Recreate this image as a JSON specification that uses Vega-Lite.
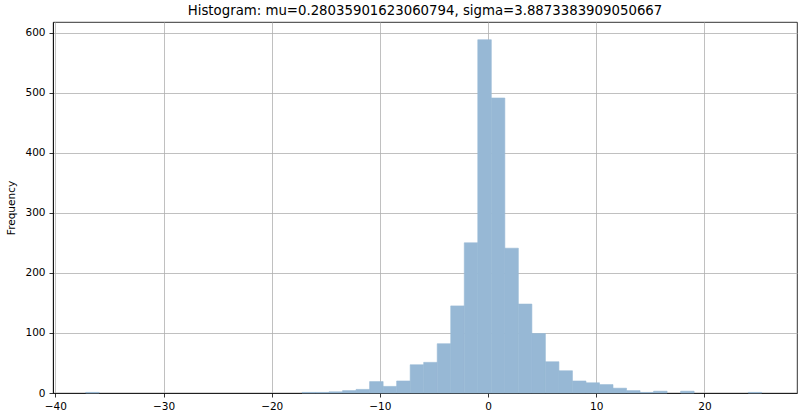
{
  "$schema": "https://vega.github.io/schema/vega-lite/v6.json",
  "width": 744,
  "height": 371,
  "autosize": "none",
  "padding": {"left": 53, "top": 22, "right": 3, "bottom": 25},
  "title": {
    "text": "Histogram: mu=0.28035901623060794, sigma=3.8873383909050667",
    "font": "DejaVu Sans",
    "fontSize": 13.3,
    "fontWeight": "normal",
    "color": "black",
    "offset": 5
  },
  "data": {
    "values": [
      {"bin_start": -37.2, "bin_end": -35.95, "count": 1},
      {"bin_start": -17.2, "bin_end": -15.95, "count": 1},
      {"bin_start": -15.95, "bin_end": -14.7, "count": 1},
      {"bin_start": -14.7, "bin_end": -13.45, "count": 2},
      {"bin_start": -13.45, "bin_end": -12.2, "count": 4},
      {"bin_start": -12.2, "bin_end": -10.95, "count": 6},
      {"bin_start": -10.95, "bin_end": -9.7, "count": 19},
      {"bin_start": -9.7, "bin_end": -8.45, "count": 11},
      {"bin_start": -8.45, "bin_end": -7.2, "count": 20},
      {"bin_start": -7.2, "bin_end": -5.95, "count": 47},
      {"bin_start": -5.95, "bin_end": -4.7, "count": 51},
      {"bin_start": -4.7, "bin_end": -3.45, "count": 82},
      {"bin_start": -3.45, "bin_end": -2.2, "count": 145},
      {"bin_start": -2.2, "bin_end": -0.95, "count": 250},
      {"bin_start": -0.95, "bin_end": 0.3, "count": 588},
      {"bin_start": 0.3, "bin_end": 1.55, "count": 491},
      {"bin_start": 1.55, "bin_end": 2.8, "count": 241},
      {"bin_start": 2.8, "bin_end": 4.05, "count": 148},
      {"bin_start": 4.05, "bin_end": 5.3, "count": 99},
      {"bin_start": 5.3, "bin_end": 6.55, "count": 52},
      {"bin_start": 6.55, "bin_end": 7.8, "count": 37},
      {"bin_start": 7.8, "bin_end": 9.05, "count": 20},
      {"bin_start": 9.05, "bin_end": 10.3, "count": 17},
      {"bin_start": 10.3, "bin_end": 11.55, "count": 14},
      {"bin_start": 11.55, "bin_end": 12.8, "count": 8},
      {"bin_start": 12.8, "bin_end": 14.05, "count": 4},
      {"bin_start": 14.05, "bin_end": 15.3, "count": 1},
      {"bin_start": 15.3, "bin_end": 16.55, "count": 3},
      {"bin_start": 17.8, "bin_end": 19.05, "count": 3},
      {"bin_start": 24.05, "bin_end": 25.3, "count": 1}
    ]
  },
  "mark": {"type": "bar", "color": "#97b8d5", "stroke": "#97b8d5", "strokeWidth": 0.6},
  "encoding": {
    "x": {
      "field": "bin_start",
      "type": "quantitative",
      "scale": {"domain": [-40.22, 28.56], "nice": false, "zero": false},
      "axis": {"values": [-40, -30, -20, -10, 0, 10, 20], "title": null}
    },
    "x2": {"field": "bin_end"},
    "y": {
      "field": "count",
      "type": "quantitative",
      "scale": {"domain": [0, 617.5], "nice": false},
      "axis": {"values": [0, 100, 200, 300, 400, 500, 600], "title": "Frequency", "titlePadding": 8}
    },
    "y2": {"datum": 0}
  },
  "config": {
    "view": {"stroke": "black", "strokeWidth": 0.8},
    "axis": {
      "zindex": 1,
      "grid": true,
      "gridColor": "#b0b0b0",
      "gridWidth": 0.8,
      "gridOpacity": 1,
      "domainColor": "black",
      "domainWidth": 0.8,
      "tickColor": "black",
      "tickWidth": 0.8,
      "tickSize": 4,
      "labelFont": "DejaVu Sans",
      "labelFontSize": 10.5,
      "labelColor": "black",
      "labelPadding": 4,
      "titleFont": "DejaVu Sans",
      "titleFontSize": 10.5,
      "titleFontWeight": "normal",
      "titleColor": "black"
    }
  }
}
